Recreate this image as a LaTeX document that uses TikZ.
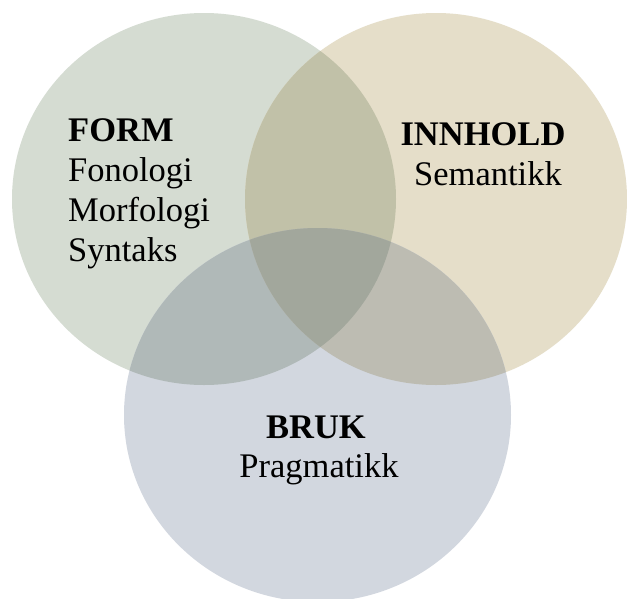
\documentclass[tikz,border=0pt]{standalone}
\usepackage{fontspec}
\setmainfont{Liberation Serif}
\definecolor{cA}{HTML}{D5DCD2}
\definecolor{cB}{HTML}{E5DEC9}
\definecolor{cC}{HTML}{D2D7DF}
\definecolor{cAB}{HTML}{C1C1A8}
\definecolor{cAC}{HTML}{B0B9B8}
\definecolor{cBC}{HTML}{BDBCB2}
\definecolor{cABC}{HTML}{A2A79C}
\tikzset{
  lbl/.style={inner sep=0pt, font=\fontsize{34.5}{40}\selectfont, text=black},
}
\begin{document}
\begin{tikzpicture}[x=1pt,y=-1pt]
\useasboundingbox (0,0) rectangle (627,598);
\fill[white] (0,0) rectangle (627,598);
\clip (0,0) rectangle (627,598);
\coordinate (A) at (204,199);
\coordinate (B) at (436,199);
\coordinate (C) at (317.5,415);
\def\shA{(A) ellipse [x radius=192pt, y radius=186pt]}
\def\shB{(B) ellipse [x radius=191pt, y radius=186pt]}
\def\shC{(C) ellipse [x radius=193.5pt, y radius=187pt]}
\fill[cA] \shA;
\fill[cB] \shB;
\fill[cC] \shC;
\begin{scope}
  \clip \shA;
  \fill[cAB] \shB;
  \fill[cAC] \shC;
\end{scope}
\begin{scope}
  \clip \shB;
  \fill[cBC] \shC;
\end{scope}
\begin{scope}
  \clip \shA;
  \clip \shB;
  \fill[cABC] \shC;
\end{scope}
\node[lbl, anchor=base west] (form) at (68,141) {\textbf{FORM}};
\node[lbl, anchor=base west] (fon) at (68,181) {Fonologi};
\node[lbl, anchor=base west] (mor) at (68,221) {Morfologi};
\node[lbl, anchor=base west] (syn) at (68,261) {Syntaks};
\node[lbl, anchor=base] (inn) at (483,145) {\textbf{INNHOLD}};
\node[lbl, anchor=base] (sem) at (488,185) {Semantikk};
\node[lbl, anchor=base] (bruk) at (316,438) {\textbf{BRUK}};
\node[lbl, anchor=base] (prag) at (319,477) {Pragmatikk};
\end{tikzpicture}
\end{document}
